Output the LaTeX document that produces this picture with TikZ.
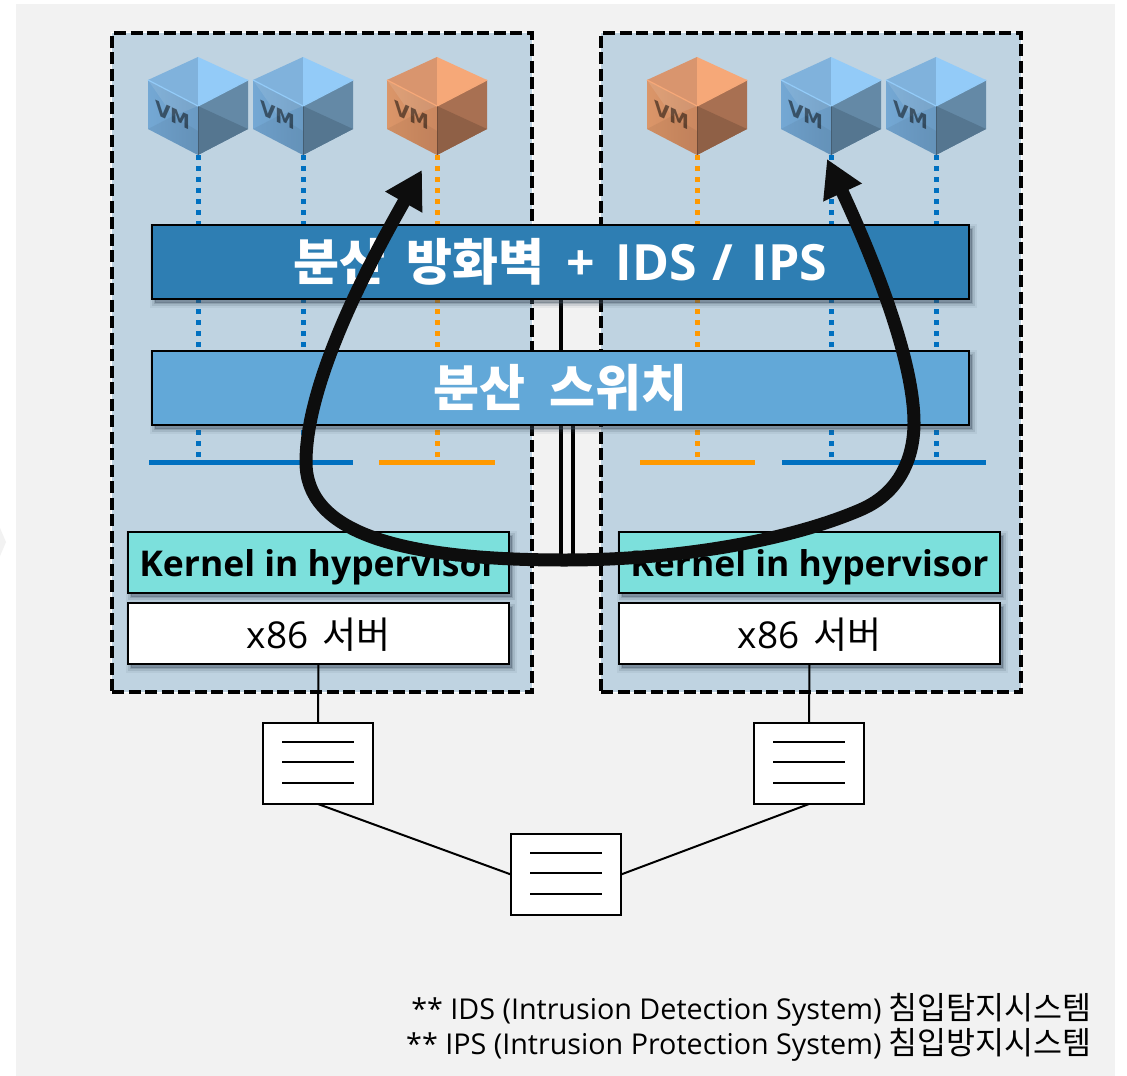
\documentclass[tikz,border=0pt]{standalone}
\usepackage{fontspec}
\setmainfont{Open Sans}
\newfontfamily\cjk{Noto Sans CJK KR}
\newfontfamily\vmfont{DejaVu Sans}
\usetikzlibrary{arrows.meta,calc}
\definecolor{pagebg}{HTML}{F2F2F2}
\definecolor{panelbg}{HTML}{BFD3E1}
\definecolor{fwbar}{HTML}{2E7EB3}
\definecolor{swbar}{HTML}{62A8D8}
\definecolor{kernelbg}{HTML}{7CE0DC}
\definecolor{netblue}{HTML}{0070C0}
\definecolor{netorange}{HTML}{FF9900}
\definecolor{inkblack}{HTML}{0D0D0D}
\definecolor{shcol}{HTML}{3A4A5A}
\definecolor{vmbluelit}{HTML}{93CBF8}
\definecolor{vmbluetop}{HTML}{80B2DC}
\definecolor{vmbluefaceA}{HTML}{74A8D4}
\definecolor{vmbluefaceB}{HTML}{6A9AC3}
\definecolor{vmblueright}{HTML}{6489A6}
\definecolor{vmbluedark}{HTML}{557690}
\definecolor{vmorangelit}{HTML}{F6A878}
\definecolor{vmorangetop}{HTML}{D9956E}
\definecolor{vmorangefaceA}{HTML}{DB9669}
\definecolor{vmorangefaceB}{HTML}{CB8860}
\definecolor{vmorangeright}{HTML}{A87052}
\definecolor{vmorangedark}{HTML}{8F6046}
\tikzset{
  softshadow/.style={
    preaction={draw=shcol,fill=shcol,draw opacity=.07,fill opacity=.07,line width=10pt,transform canvas={xshift=3pt,yshift=-4pt}},
    preaction={draw=shcol,fill=shcol,draw opacity=.14,fill opacity=.14,line width=6pt,transform canvas={xshift=3pt,yshift=-4pt}},
    preaction={draw=shcol,fill=shcol,draw opacity=.2,fill opacity=.2,line width=2pt,transform canvas={xshift=3pt,yshift=-4pt}}},
  panelbox/.style={draw=black,fill=panelbg,line width=3.4pt,dash pattern=on 12pt off 4.5pt,anchor=north west,inner sep=0pt,outer sep=0pt,minimum width=420pt,minimum height=659pt,
    preaction={draw=white,line width=1.2pt,solid}},
  barbox/.style={draw=black,line width=2.4pt,anchor=north west,inner sep=0pt,outer sep=0pt,softshadow,text=white,
    font=\bfseries\fontsize{50}{50}\selectfont,minimum width=817pt,minimum height=74pt},
  hostbox/.style={draw=black,line width=2.4pt,anchor=north west,inner sep=0pt,outer sep=0pt,softshadow,minimum width=381pt,minimum height=61pt},
  kernelbox/.style={hostbox,fill=kernelbg,font=\bfseries\fontsize{35.5}{36}\selectfont},
  serverbox/.style={hostbox,fill=white,font=\fontsize{37}{37}\selectfont},
  netbox/.style={draw=black,fill=white,line width=2pt,anchor=north west,inner sep=0pt,outer sep=0pt,minimum width=110pt,minimum height=81pt},
  link/.style={draw=black,line width=2pt},
  trunk/.style={draw=black,line width=3.2pt},
  rowline/.style={draw=black,line width=2pt},
  dotblue/.style={draw=netblue,line width=5pt,dash pattern=on 5pt off 6pt},
  dotorange/.style={draw=netorange,line width=5pt,dash pattern=on 5pt off 6pt},
  busblue/.style={draw=netblue,line width=5pt},
  busorange/.style={draw=netorange,line width=5pt},
  bigflow/.style={draw=inkblack,line width=13pt,{Triangle[width=40pt,length=37pt,fill=inkblack]}-{Triangle[width=40pt,length=37pt,fill=inkblack]}},
  vmlabel/.style={text=black,opacity=.5,font=\vmfont\bfseries\fontsize{20}{20}\selectfont,yslant=-.45,transform shape,inner sep=0pt},
  footnote/.style={anchor=east,inner sep=0pt,font=\fontsize{28.7}{30}\selectfont},
  pics/vmcube/.style={code={
    \coordinate (-bottom) at (0,49);
    \fill[#1top] (-50,-26)--(0,-49)--(0,0)--cycle;
    \fill[#1lit] (0,-49)--(50,-26)--(0,0)--cycle;
    \shade[left color=#1faceA,right color=#1faceB] (-50,-26)--(0,0)--(0,49)--(-50,23)--cycle;
    \fill[white,opacity=.1] (-50,-26)--(0,0)--(-25,10)--cycle;
    \fill[black,opacity=.05] (-50,23)--(-25,10)--(0,25)--(0,49)--cycle;
    \fill[#1right] (0,0)--(50,-26)--(50,23)--(0,49)--cycle;
    \fill[#1dark] (0,0)--(50,23)--(0,49)--cycle;
    \draw[#1lit,line width=1.2pt,line join=round] (-50,-26)--(0,0)--(50,-26);
    \draw[black,opacity=.2,line width=1pt] (0,0)--(0,49);
    \node[vmlabel] (-text) at (-25,9) {VM};
  }},
}
\newcommand{\kr}[1]{{\cjk #1}}
\newcommand{\krnote}[1]{{\cjk\fontsize{31.5}{30}\selectfont #1}}
\newcommand{\wsp}[1]{\hspace{#1pt}}
\newcommand{\lowered}[2]{\raisebox{-#1pt}[0pt][0pt]{#2}}
\begin{document}
\begin{tikzpicture}[x=1pt,y=-1pt]
\useasboundingbox (0,0) rectangle (1127,1076);
\fill[white] (0,0) rectangle (1127,1076);
\fill[pagebg] (16,4) rectangle (1115,1076);
\fill[pagebg] (0,528)--(6,542)--(0,556)--cycle;

% panels
\node[panelbox] (panelL) at (112,33) {};
\node[panelbox] (panelR) at (601,33) {};

% cubes
\pic (vmA) at (198,106) {vmcube=vmblue};
\pic (vmB) at (303,106) {vmcube=vmblue};
\pic (vmC) at (437,106) {vmcube=vmorange};
\pic (vmD) at (697,106) {vmcube=vmorange};
\pic (vmE) at (831,106) {vmcube=vmblue};
\pic (vmF) at (936,106) {vmcube=vmblue};

% bus bars
\coordinate (busLa) at (149,462);  \coordinate (busLb) at (353,462);
\coordinate (busLc) at (379,462);  \coordinate (busLd) at (495,462);
\coordinate (busRa) at (640,462);  \coordinate (busRb) at (755,462);
\coordinate (busRc) at (782,462);  \coordinate (busRd) at (986,462);

% drops from the VMs
\draw[dotblue] (vmA-bottom) -- (vmA-bottom |- busLa);
\draw[dotblue] (vmB-bottom) -- (vmB-bottom |- busLa);
\draw[dotorange] (vmC-bottom) -- (vmC-bottom |- busLc);
\draw[dotorange] (vmD-bottom) -- (vmD-bottom |- busRa);
\draw[dotblue] (vmE-bottom) -- (vmE-bottom |- busRc);
\draw[dotblue] (vmF-bottom) -- (vmF-bottom |- busRc);

\draw[busblue] (busLa) -- (busLb);
\draw[busorange] (busLc) -- (busLd);
\draw[busorange] (busRa) -- (busRb);
\draw[busblue] (busRc) -- (busRd);

% trunks between the two bars and the flow
\coordinate (trunkAend) at (561,556);
\coordinate (trunkBend) at (573,556);
\coordinate (trunkAstart) at (561,299);
\coordinate (trunkBstart) at (573,425);
\draw[trunk] (trunkAstart) -- (trunkAend);
\draw[trunk] (trunkBstart) -- (trunkBend);

% bars
\node[barbox,fill=fwbar] (fw) at (152,225) {\kr{분산\wsp{9} 방화벽}\wsp{9} +\wsp{8} IDS\wsp{3} /\wsp{5} IPS};
\node[barbox,fill=swbar] (sw) at (152,351) {\kr{분산\wsp{12} 스위치}};

% hosts
\node[kernelbox] (kernelL) at (128,532) {\lowered{13.5}{Kernel in hypervisor}};
\node[kernelbox] (kernelR) at (619,532) {\lowered{13.5}{Kernel in hypervisor}};
\node[serverbox] (x86L) at (128,603) {\lowered{14.5}{x86\wsp{4} \kr{서버}}};
\node[serverbox] (x86R) at (619,603) {\lowered{14.5}{x86\wsp{4} \kr{서버}}};

% network
\node[netbox] (netL) at (263,723) {};
\node[netbox] (netR) at (754,723) {};
\node[netbox] (netC) at (511,834) {};
\foreach \n in {netL,netR,netC}{
  \foreach \r in {19,39,60}{
    \draw[rowline] ($(\n.north west)+(19,\r)$) -- ($(\n.north west)+(91,\r)$);
  }
}
\draw[link] (x86L.south) -- (netL.north);
\draw[link] (x86R.south) -- (netR.north);
\draw[link] (netL.south) -- (netC.west);
\draw[link] (netR.south) -- (netC.east);

% flow
\coordinate (flowStart) at (422,170);
\coordinate (flowLeft) at (306,462);
\coordinate (flowLow) at (565,560);
\coordinate (flowRlow) at (860,510);
\coordinate (flowRight) at (914,423);
\coordinate (flowEnd) at (827,159);
\draw[bigflow] (flowStart) .. controls (372,258) and (306,380) .. (flowLeft)
  .. controls (306,530) and (392,560) .. (flowLow)
  .. controls (680,560) and (790,540) .. (flowRlow)
  .. controls (905,491) and (914,450) .. (flowRight)
  .. controls (914,350) and (860,230) .. (flowEnd);

% notes
\node[footnote] (noteA) at (1092,1010) {** IDS (Intrusion Detection System) \krnote{침입탐지시스템}};
\node[footnote] (noteB) at (1092,1045) {** IPS (Intrusion Protection System) \krnote{침입방지시스템}};
\end{tikzpicture}
\end{document}
